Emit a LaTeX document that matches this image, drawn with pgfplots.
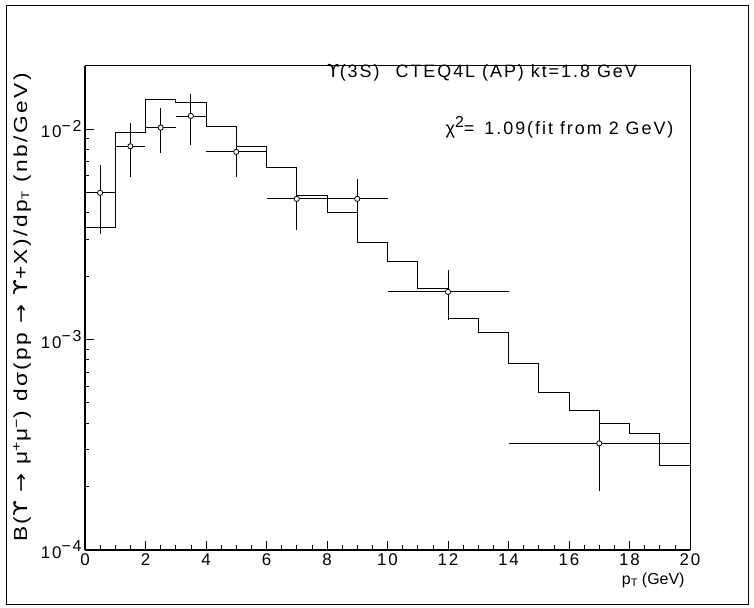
\documentclass[border=0pt]{standalone}
\usepackage{pgfplots}
\pgfplotsset{compat=1.18}
\usepackage{fontspec}
\setmainfont[LetterSpace=11]{Liberation Sans}
\newfontfamily\plainfont{Liberation Sans}
\newfontfamily\symfont[LetterSpace=11]{DejaVu Sans}
\newcommand{\Ups}{{\symfont ϒ}}
\newcommand{\arr}{{\symfont →}}
\newcommand{\expo}[1]{\raisebox{0.75ex}{\fontsize{16}{16}\selectfont #1}}
\newcommand{\subT}{\raisebox{-0.2ex}{\fontsize{11}{11}\selectfont T}}

\begin{document}
\begin{tikzpicture}
\useasboundingbox (-85bp,-58.4bp) rectangle (669bp,549.6bp);
\draw[line width=0.8bp] (-79bp,-54.4bp) rectangle (663bp,544.6bp);
\begin{axis}[
  at={(0,0)}, anchor=south west,
  scale only axis, width=605bp, height=484bp,
  xmin=0, xmax=20,
  ymode=log, ymin=1e-4, ymax=2e-2,
  xtick={0,2,...,20}, minor x tick num=3,
  ytick={1e-4,1e-3,1e-2},
  minor ytick={2e-4,3e-4,4e-4,5e-4,6e-4,7e-4,8e-4,9e-4,
               2e-3,3e-3,4e-3,5e-3,6e-3,7e-3,8e-3,9e-3},
  yticklabels={10\expo{−4},10\expo{−3},10\expo{−2}},
  xtick pos=bottom, ytick pos=left,
  tick align=inside,
  major tick length=9bp, minor tick length=4.5bp,
  every tick/.style={black, line width=0.7bp},
  axis line style={line width=0.8bp},
  /pgf/number format/assume math mode=true,
  ticklabel style={font=\fontsize{17}{20}\selectfont},
  xticklabel style={yshift=-1bp},
  xlabel={\plainfont p\subT\ (GeV)},
  xlabel style={at={(rel axis cs:1,0)}, anchor=north east, yshift=-20bp, xshift=-2bp,
                font=\fontsize{16}{20}\selectfont},
  ylabel={\scalebox{1.2}[1]{B(\Ups\ \arr\ μ\textsuperscript{+}μ\textsuperscript{−}) dσ(pp \arr\ \Ups+X)/dp\subT\ (nb/GeV)}},
  ylabel style={at={(axis description cs:-0.104,0.5)}, rotate=0, anchor=center,
                font=\fontsize{19}{20}\selectfont},
  clip=false,
]
% theory histogram, one value per 1 GeV bin
\addplot[const plot mark left, black, line width=0.8bp] coordinates {
  (0,3.41e-3) (1,9.64e-3) (2,1.38e-2) (3,1.34e-2) (4,1.03e-2)
  (5,8.23e-3) (6,6.54e-3) (7,4.82e-3) (8,4.02e-3) (9,2.89e-3)
  (10,2.35e-3) (11,1.75e-3) (12,1.25e-3) (13,1.08e-3) (14,7.7e-4)
  (15,5.61e-4) (16,4.61e-4) (17,3.99e-4) (18,3.57e-4) (19,2.51e-4)
  (20,2.51e-4)
};
% measured points with bin widths and errors
\addplot[black, line width=0.8bp, only marks,
  mark=*, mark size=2.6bp, mark options={fill=white, draw=black, line width=0.8bp},
  error bars/.cd, x dir=both, x explicit, y dir=both, y explicit,
  error bar style={line width=0.8bp}, error mark=none]
  table[x=x, y=y, x error=ex, y error=ey] {
  x    y        ex   ey
  0.5  4.97e-3  0.5  1.8e-3
  1.5  8.27e-3  0.5  2.35e-3
  2.5  1.014e-2 0.5  2.45e-3
  3.5  1.153e-2 0.5  3.1e-3
  5    7.78e-3  1    1.9e-3
  7    4.65e-3  1    1.35e-3
  9    4.65e-3  1    1.1e-3
  12   1.68e-3  2    4.5e-4
  17   3.2e-4   3    1.3e-4
};
\draw[line width=2bp] (rel axis cs:0,0) -- (rel axis cs:0,1);
\draw[line width=2bp] (rel axis cs:0,0) -- (rel axis cs:1,0);
\node[anchor=east, font=\fontsize{18}{20}\selectfont] at (rel axis cs:0.9180,0.9845)
  {\Ups(3S)\hspace{16bp}CTEQ4L (AP) kt=1.8 GeV};
\node[anchor=east, font=\fontsize{18}{20}\selectfont] at (rel axis cs:0.9785,0.873)
  {χ\expo{2}=\hspace{10bp}1.09(fit from 2 GeV)};
\end{axis}
\end{tikzpicture}
\end{document}
